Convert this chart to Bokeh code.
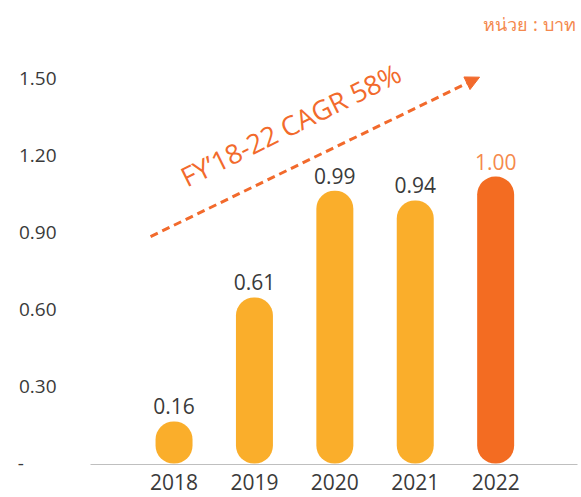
from bokeh.plotting import figure
from bokeh.models import Range1d, Label, Arrow, NormalHead, ColumnDataSource, FixedTicker
from bokeh.core.properties import value
from bokeh.embed import file_html
from bokeh.resources import INLINE

# ---- data ----
years = [2018, 2019, 2020, 2021, 2022]
bar_heights = [0.164, 0.647, 1.063, 1.025, 1.118]   # drawn bar tops
value_labels = ["0.16", "0.61", "0.99", "0.94", "1.00"]
y_ticks = [0, 0.3, 0.6, 0.9, 1.2, 1.5]
y_tick_labels = ["-", "0.30", "0.60", "0.90", "1.20", "1.50"]
cagr_text = "FY\u201918-22 CAGR 58%"
unit_text = "หน่วย : บาท"

YELLOW = "#FAAE2B"
ORANGE = "#F36C22"
DARK = "#3A3A3A"
bar_colors = [YELLOW, YELLOW, YELLOW, YELLOW, ORANGE]
label_colors = [DARK, DARK, DARK, DARK, "#F5894C"]

src = ColumnDataSource(dict(x=years, top=bar_heights, label=value_labels,
                            color=bar_colors, lcolor=label_colors))

p = figure(width=580, height=497,
           x_range=Range1d(2016.961, 2023.018),
           y_range=Range1d(-0.0039, 1.8037),
           output_backend="svg", toolbar_location=None,
           min_border_left=90, min_border_right=3,
           min_border_top=0, min_border_bottom=33)
p.outline_line_color = None
p.grid.visible = False
p.background_fill_color = "white"

p.vbar(x="x", top="top", bottom=0, width=0.46, fill_color="color",
       line_color=None, border_radius=18, source=src)

p.text(x="x", y="top", text="label", source=src, y_offset=-15,
       text_align="center", text_baseline="alphabetic",
       text_font=value("Open Sans"), text_font_size="21px",
       text_color="lcolor")

xa = p.xaxis[0]
xa.ticker = FixedTicker(ticks=years)
xa.axis_line_color = "#BFBFBF"
xa.axis_line_width = 1.2
xa.major_tick_line_color = None
xa.minor_tick_line_color = None
xa.major_label_standoff = 3
xa.major_label_text_font = "Open Sans"
xa.major_label_text_font_size = "21px"
xa.major_label_text_color = DARK

ya = p.yaxis[0]
ya.ticker = FixedTicker(ticks=y_ticks)
# the zero label is left-aligned in the reference: pad with figure spaces
ya.major_label_overrides = {t: (lab if lab != "-" else "-\u2007\u2007\u2007")
                            for t, lab in zip(y_ticks, y_tick_labels)}
ya.axis_line_color = None
ya.major_tick_line_color = None
ya.minor_tick_line_color = None
ya.major_label_standoff = 28
ya.major_label_text_font = "Open Sans"
ya.major_label_text_font_size = "19px"
ya.major_label_text_color = DARK

p.add_layout(Arrow(x_start=2017.708, y_start=0.884, x_end=2021.80, y_end=1.505,
                   line_color="#F26A2C", line_width=3, line_dash="8 5",
                   end=NormalHead(size=14, fill_color="#F26A2C", line_color="#F26A2C")))

p.add_layout(Label(x=2019.45, y=1.32, text=cagr_text, angle=0.46,
                   text_align="center", text_baseline="middle",
                   text_font="Open Sans", text_font_size="27px",
                   text_color="#F26A2C"))

p.add_layout(Label(x=2022.994, y=1.714, text=unit_text, text_align="right",
                   text_baseline="middle", text_font="Noto Sans",
                   text_font_size="18px", text_color="#F4894E"))

open("out.html", "w").write(file_html(p, INLINE))
